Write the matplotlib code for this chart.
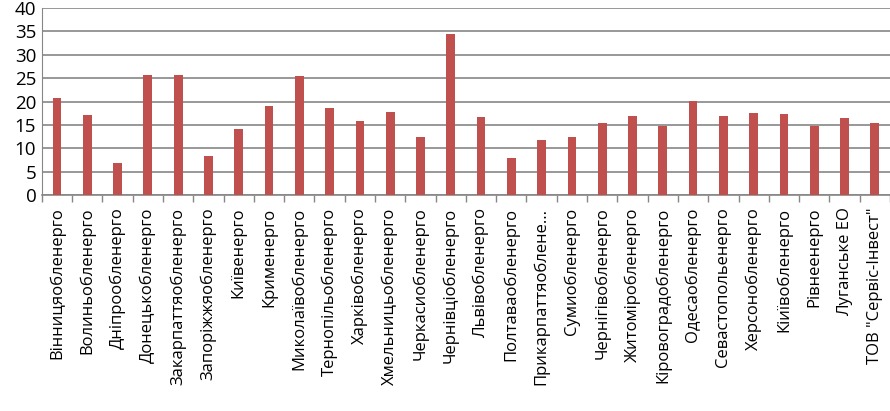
import numpy as np
import matplotlib.pyplot as plt

# назви компаній (вісь X)
kompanii = ['Вінницяобленерго', 'Волиньобленерго', 'Дніпрообленерго', 'Донецькобленерго',
            'Закарпаттяобленерго', 'Запоріжжяобленерго', 'Київенерго', 'Крименерго',
            'Миколаївобленерго', 'Тернопільобленерго', 'Харківобленерго', 'Хмельницьобленерго',
            'Черкасиобленерго', 'Чернівціобленерго', 'Львівобленерго', 'Полтаваобленерго',
            'Прикарпаттяоблене...', 'Сумиобленерго', 'Чернігівобленерго', 'Житоміробленерго',
            'Кіровоградобленерго', 'Одесаобленерго', 'Севастопольенерго', 'Херсонобленерго',
            'Кіиївобленерго', 'Рівнеенерго', 'Луганське ЕО', 'ТОВ "Сервіс-Інвест"']
# значення
znach = [20.8, 17.2, 6.9, 25.7, 25.7, 8.4, 14.2, 19.1, 25.5, 18.7, 15.9, 17.8, 12.5, 34.5,
         16.7, 8.0, 11.8, 12.5, 15.3, 17.0, 14.8, 20.2, 17.0, 17.6, 17.4, 14.8, 16.5, 15.3]
y_ticks = [0, 5, 10, 15, 20, 25, 30, 35, 40]

plt.rcParams['font.family'] = ['Open Sans', 'DejaVu Sans']

fig = plt.figure(figsize=(8.9, 4.11), dpi=100)
ax = fig.add_axes([0.047, 0.5255, 0.953, 0.455])

x = np.arange(len(kompanii))
ax.bar(x, znach, width=0.29, color='#C0504D', zorder=3)

ax.set_xlim(-0.5, len(kompanii) - 0.5)
ax.set_ylim(0, 40)
ax.set_yticks(y_ticks)
ax.set_yticklabels([str(t) for t in y_ticks], fontsize=13.5)
ax.set_xticks(x)
ax.set_xticklabels(kompanii, rotation=90, fontsize=12)
ax.tick_params(axis='x', which='major', length=0, pad=9)
ax.tick_params(axis='y', length=0, pad=4)
ax.set_xticks(np.arange(-0.5, len(kompanii)), minor=True)
ax.tick_params(axis='x', which='minor', length=5, color='#868686', width=1)

ax.yaxis.grid(True, color='#868686', linewidth=1.2, zorder=0)
for s in ['top', 'right']:
    ax.spines[s].set_visible(False)
ax.spines['left'].set_color('#868686')
ax.spines['bottom'].set_color('#868686')
ax.spines['bottom'].set_linewidth(1.2)

plt.savefig('out.png', dpi=100)
